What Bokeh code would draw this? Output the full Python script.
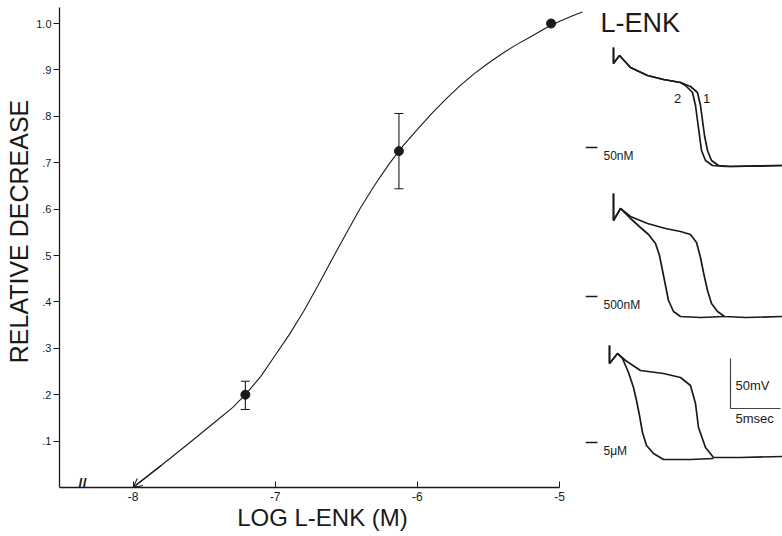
import math
from bokeh.plotting import figure
from bokeh.layouts import row
from bokeh.models import (Range1d, FixedTicker, Label, Whisker, TeeHead,
                          ColumnDataSource, Arrow, OpenHead)
from bokeh.core.properties import value
from bokeh.embed import file_html
from bokeh.resources import INLINE

# ---------------- dose-response data ----------------
log_conc = [-7.21, -6.13, -5.06]
rel_decrease = [0.200, 0.725, 1.000]
err_x = [-7.21, -6.13]
err_lower = [0.168, 0.644]
err_upper = [0.229, 0.806]

curve_x = [-8.00, -7.80, -7.60, -7.40, -7.30, -7.21, -7.10, -7.00, -6.90,
           -6.80, -6.70, -6.60, -6.50, -6.40, -6.30, -6.20, -6.10, -6.00,
           -5.90, -5.80, -5.70, -5.60, -5.50, -5.40, -5.30, -5.20, -5.10,
           -5.00, -4.90, -4.84]
curve_y = [0.000, 0.048, 0.097, 0.147, 0.172, 0.200, 0.240, 0.285, 0.330,
           0.380, 0.435, 0.492, 0.548, 0.603, 0.652, 0.697, 0.737, 0.772,
           0.806, 0.837, 0.866, 0.892, 0.915, 0.936, 0.955, 0.972, 0.990,
           1.005, 1.018, 1.025]

x_ticks = [-8, -7, -6, -5]
x_tick_labels = ["-8", "-7", "-6", "-5"]
y_ticks = [0.1, 0.2, 0.3, 0.4, 0.5, 0.6, 0.7, 0.8, 0.9, 1.0]
y_tick_labels = [".1", ".2", ".3", ".4", ".5", ".6", ".7", ".8", ".9", "1.0"]

x_title = "LOG L-ENK (M)"
y_title = "RELATIVE DECREASE"

# ---------------- action potential traces (ms, mV) ----------------
conc_labels = ["50nM", "500nM", "5\u03bcM"]

p1_a_t = [0, 0, 0.6, 1.7, 3.4, 5.0, 6.7, 7.7, 8.4, 8.7, 8.9, 9.1, 9.4, 9.8, 10.5, 11.7, 16.9]
p1_a_v = [100, 84, 92, 80, 72, 68, 65, 61, 55, 42, 27, 12, -3, -13, -18, -19, -18]
p1_b_t = [0, 0, 0.6, 1.7, 3.4, 5.0, 6.7, 7.2, 7.9, 8.2, 8.4, 8.6, 8.8, 9.2, 9.9, 11.2, 16.9]
p1_b_v = [100, 84, 92, 80, 72, 68, 65, 62, 55, 42, 27, 12, -3, -13, -18, -19, -18]

p2_a_t = [0, 0, 0.7, 1.7, 3.4, 5.2, 6.7, 7.7, 8.3, 8.7, 9.0, 9.4, 9.8, 10.4, 11.1, 13.2, 16.9]
p2_a_v = [103, 76, 88, 80, 73, 68, 65, 62, 54, 39, 24, 6, -7, -15, -20, -21, -20]
p2_b_t = [0, 0, 0.7, 1.7, 2.7, 3.5, 4.2, 4.6, 4.9, 5.2, 5.5, 6.0, 6.7, 8.7, 11.1]
p2_b_v = [103, 76, 88, 78, 69, 62, 53, 41, 26, 11, -4, -15, -20, -21, -20]

p3_a_t = [-0.4, -0.4, 0.4, 1.2, 2.7, 5.0, 6.7, 7.7, 8.2, 8.5, 9.2, 10.0, 12.7, 16.9]
p3_a_v = [97, 79, 89, 82, 72, 69, 65, 57, 39, 15, -5, -15, -15, -14]
p3_b_t = [-0.4, -0.4, 0.4, 0.9, 1.5, 2.0, 2.3, 2.6, 2.9, 3.3, 4.0, 5.0, 7.7, 10.0]
p3_b_v = [97, 79, 89, 84, 70, 55, 42, 27, 10, -3, -11, -17, -17, -16]

scale_ms = 5
scale_mv = 50

# ---------------- styling / layout constants ----------------
FONT = "Liberation Sans"
INK = "#1a1a1a"
panel_zero = [389, 240, 94]
H = 536
BOTTOM = 49
LAB_W = 33


def bare(fig):
    fig.outline_line_color = None
    fig.grid.visible = False
    fig.background_fill_color = "white"
    fig.border_fill_color = "white"


# ---------------- y-title strip ----------------
yl = figure(width=LAB_W, height=H, x_range=Range1d(0, LAB_W),
            y_range=Range1d(BOTTOM, H), output_backend="svg",
            toolbar_location=None, min_border=0, min_border_bottom=BOTTOM,
            x_axis_location=None, y_axis_location=None)
bare(yl)
yl.text(x=[18.5], y=[H - 231], text=[y_title], angle=math.pi / 2,
        text_align="center", text_baseline="middle",
        text_font=value(FONT), text_font_size=value("25px"), text_color=INK)

# ---------------- main dose-response plot ----------------
p = figure(width=585 - LAB_W, height=H, x_range=Range1d(-8.517, -4.818),
           y_range=Range1d(0, 1.0496), output_backend="svg",
           toolbar_location=None, min_border_left=56 - LAB_W, min_border_right=0,
           min_border_top=0, min_border_bottom=BOTTOM)
bare(p)

xa = p.xaxis[0]
xa.ticker = FixedTicker(ticks=x_ticks)
xa.major_label_overrides = {t: l for t, l in zip(x_ticks, x_tick_labels)}
xa.bounds = (-8.517, -5)
xa.major_tick_in = 6
xa.major_tick_out = 0
xa.minor_tick_line_color = None
xa.major_label_standoff = 4
xa.axis_line_width = 1.3
xa.axis_line_color = INK
xa.major_tick_line_color = INK
xa.major_label_text_font = FONT
xa.major_label_text_font_size = "12px"
xa.major_label_text_color = INK
xa.axis_label = x_title
xa.axis_label_standoff = 0
xa.axis_label_text_font = FONT
xa.axis_label_text_font_size = "24px"
xa.axis_label_text_font_style = "normal"
xa.axis_label_text_color = INK

ya = p.yaxis[0]
ya.ticker = FixedTicker(ticks=y_ticks)
ya.major_label_overrides = {t: l for t, l in zip(y_ticks, y_tick_labels)}
ya.bounds = (0, 1.035)
ya.major_tick_in = 0
ya.major_tick_out = 6
ya.minor_tick_line_color = None
ya.major_label_standoff = 2
ya.axis_line_width = 1.3
ya.axis_line_color = INK
ya.major_tick_line_color = INK
ya.major_label_text_font = FONT
ya.major_label_text_font_size = "11px"
ya.major_label_text_color = INK

p.line(curve_x, curve_y, line_width=1.1, color=INK)
p.add_layout(Arrow(end=OpenHead(size=9, line_width=1.1, line_color=INK),
                   x_start=curve_x[1], y_start=curve_y[1],
                   x_end=curve_x[0], y_end=curve_y[0],
                   line_color=INK, line_width=1.1))

err_src = ColumnDataSource(dict(base=err_x, lower=err_lower, upper=err_upper))
p.add_layout(Whisker(base="base", lower="lower", upper="upper", source=err_src,
                     line_color=INK, line_width=1.1,
                     upper_head=TeeHead(size=9, line_color=INK, line_width=1.1),
                     lower_head=TeeHead(size=9, line_color=INK, line_width=1.1)))
p.scatter(log_conc, rel_decrease, size=9, color=INK)

p.add_layout(Label(x=23, y=4, x_units="screen", y_units="screen",
                   text="//", text_align="center", text_baseline="middle",
                   text_font=FONT, text_font_size="15px",
                   text_font_style="bold", text_color=INK))

# ---------------- traces panel ----------------
q = figure(width=782 - 585, height=H, x_range=Range1d(-2.8, 16.9),
           y_range=Range1d(BOTTOM, H), output_backend="svg",
           toolbar_location=None, min_border=0, min_border_bottom=BOTTOM,
           x_axis_location=None, y_axis_location=None)
bare(q)

traces = [
    [(p1_a_t, p1_a_v), (p1_b_t, p1_b_v)],
    [(p2_a_t, p2_a_v), (p2_b_t, p2_b_v)],
    [(p3_a_t, p3_a_v), (p3_b_t, p3_b_v)],
]
for off, pair, lab in zip(panel_zero, traces, conc_labels):
    for t, v in pair:
        q.line(t, [vv + off for vv in v], line_width=1.7, color=INK)
    q.segment(x0=[-2.8], y0=[off], x1=[-1.6], y1=[off], line_width=1.3, color=INK)
    q.add_layout(Label(x=-1.0, y=off - 8, text=lab, text_align="left",
                       text_baseline="middle", text_font=FONT,
                       text_font_size="12px", text_color=INK))

q.add_layout(Label(x=6.4, y=panel_zero[0] + 49, text="2", text_align="center",
                   text_baseline="middle", text_font=FONT,
                   text_font_size="13px", text_color=INK))
q.add_layout(Label(x=9.3, y=panel_zero[0] + 49, text="1", text_align="center",
                   text_baseline="middle", text_font=FONT,
                   text_font_size="13px", text_color=INK))
q.add_layout(Label(x=-1.3, y=514, text="L-ENK", text_align="left",
                   text_baseline="middle", text_font=FONT,
                   text_font_size="27px", text_color=INK))

bar_t0, bar_y0 = 11.7, 128
q.line([bar_t0, bar_t0, bar_t0 + scale_ms], [bar_y0 + scale_mv, bar_y0, bar_y0],
       line_width=1.2, color="#444444")
q.add_layout(Label(x=bar_t0 + 0.5, y=bar_y0 + 23, text="50mV", text_align="left",
                   text_baseline="middle", text_font=FONT,
                   text_font_size="13px", text_color=INK))
q.add_layout(Label(x=bar_t0 + 0.5, y=bar_y0 - 10, text="5msec", text_align="left",
                   text_baseline="middle", text_font=FONT,
                   text_font_size="13px", text_color=INK))

layout = row(yl, p, q)
open("out.html", "w").write(file_html(layout, INLINE))
